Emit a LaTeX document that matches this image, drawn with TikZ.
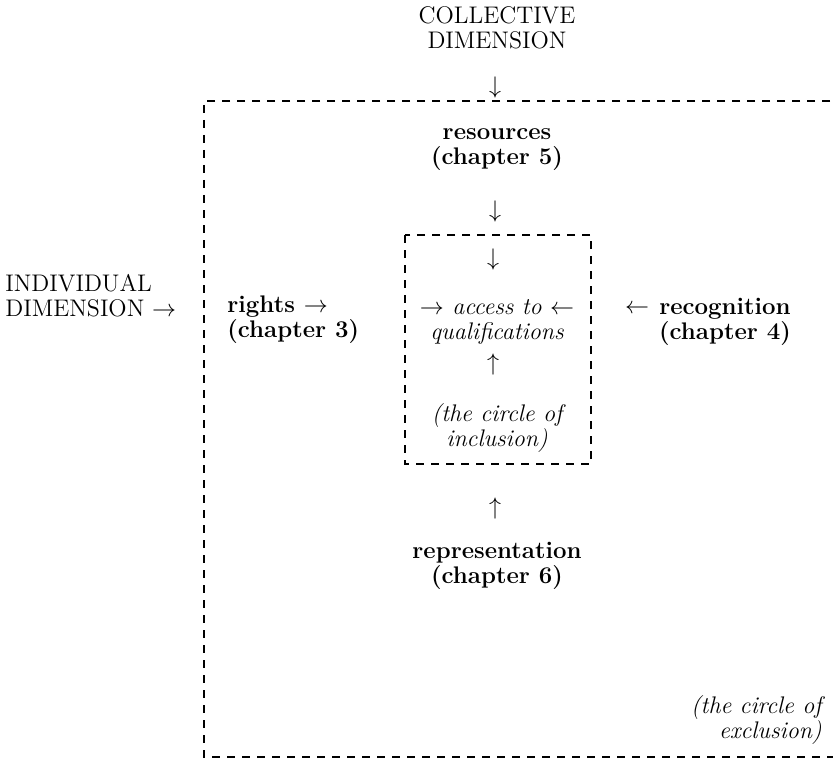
\documentclass[tikz,border=0pt]{standalone}
\usepackage{amsmath}

\begin{document}
\begin{tikzpicture}[x=0.5pt, y=-0.5pt,
		every node/.style={inner sep=0pt, font=\fontsize{12}{12.5}\selectfont},
		dim/.style={align=center},
		pillar/.style={align=center, font=\fontsize{12}{12.5}\selectfont\bfseries},
		circ/.style={align=center, font=\fontsize{12}{12.5}\selectfont\itshape},
		circlebox/.style={dash pattern=on 4pt off 3.5pt, line width=0.6pt}]
	\useasboundingbox (0,0) rectangle (833,759);
	% the two circles
	\draw[circlebox] (845,101) -- (204,101) -- (204,757) -- (845,757);
	\draw[circlebox] (405,235) rectangle (591,464);
	% dimensions
	\node[dim] (coll) at (497,28) {COLLECTIVE\\DIMENSION};
	\node (collarrow) at (495,88) {$\downarrow$};
	\node[align=left, anchor=west] (ind) at (5,296) {INDIVIDUAL\\DIMENSION $\rightarrow$};
	% the four pillars
	\node[pillar] (res) at (497,150) {resources\\(chapter 5)};
	\node (resarrow) at (495,211) {$\downarrow$};
	\node[pillar, align=left, anchor=west] (rights) at (227,320) {rights $\rightarrow$\\(chapter 3)};
	\node (recarrow) at (637,309) {$\leftarrow$};
	\node[pillar] (rec) at (725,322) {recognition\\(chapter 4)};
	\node (reparrow) at (495,508) {$\uparrow$};
	\node[pillar] (rep) at (497,566) {representation\\(chapter 6)};
	% inside the circle of inclusion
	\node (inarrow) at (493,259) {$\downarrow$};
	\node[circ] (access) at (497,322) {$\rightarrow$ access to $\leftarrow$\\qualifications};
	\node (uparrow) at (493,364) {$\uparrow$};
	\node[circ] (incl) at (497,428) {(the circle of\\inclusion)};
	\node[circ, align=right, anchor=east] (excl) at (822,720) {(the circle of\\exclusion)};
\end{tikzpicture}
\end{document}
